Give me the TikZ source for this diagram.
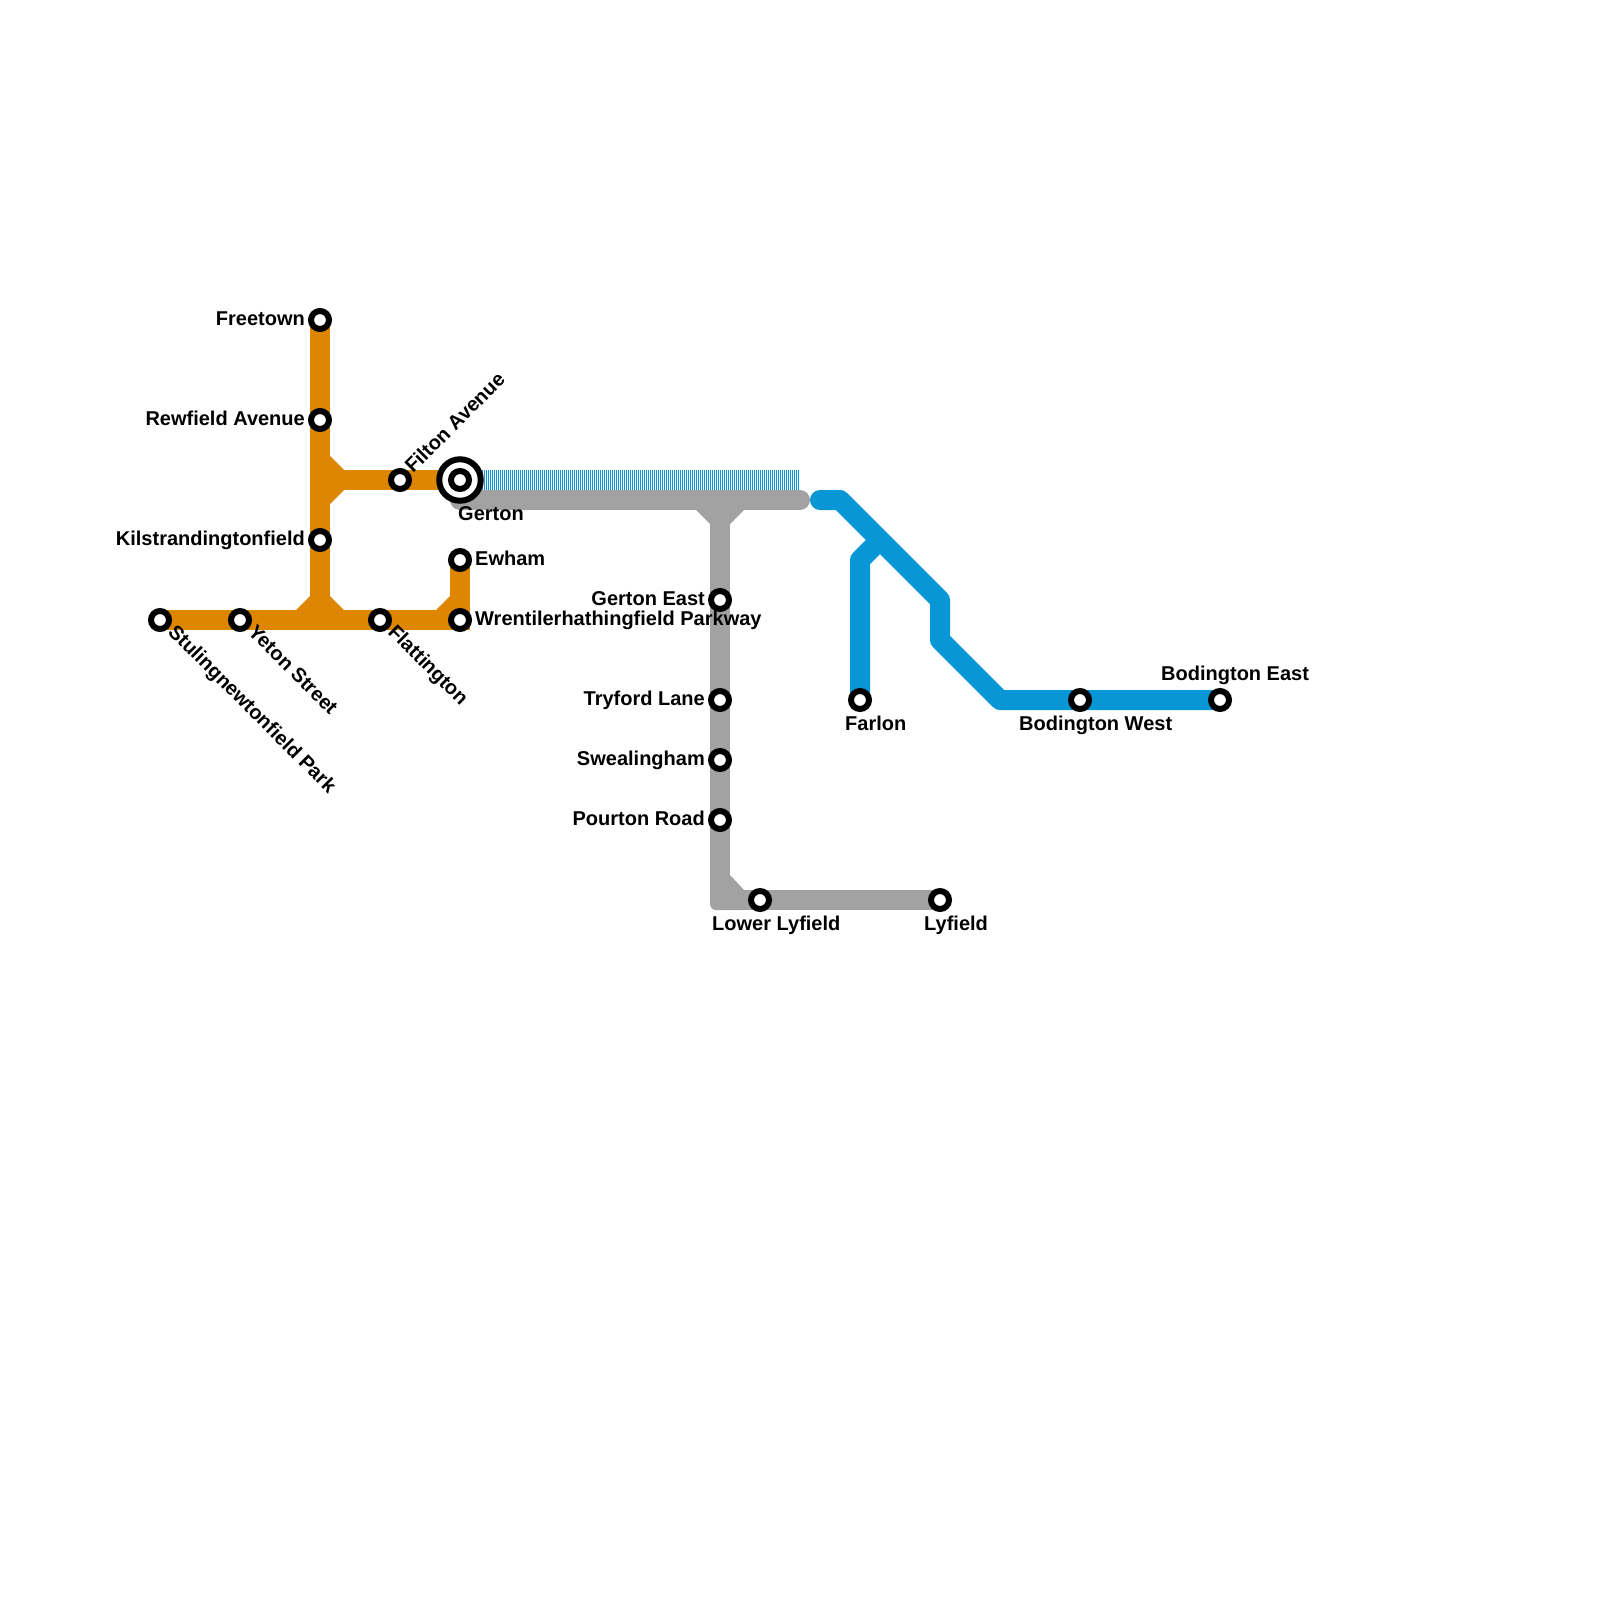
\documentclass[tikz,border=0pt]{standalone}
\usepackage{fontspec}
\setmainfont{Liberation Sans}
\definecolor{orangeline}{HTML}{DF8600}
\definecolor{blueline}{HTML}{0896D7}
\definecolor{greyline}{HTML}{A2A2A2}
\tikzset{
  x=1pt,y=-1pt,
  metro/.style={line width=20pt,line join=round},
  stn/.style={circle,draw=black,fill=white,line width=6pt,minimum size=18pt,inner sep=0pt,outer sep=0pt},
  lbl/.style={font=\fontsize{20}{20}\bfseries\selectfont,inner sep=0pt,text=black},
}
\begin{document}
\begin{tikzpicture}
\useasboundingbox (0,0) rectangle (1600,1600);
% stations (named first so connectors can use them)
\path
 (320,320) coordinate (cFree) (320,420) coordinate (cRew) (320,540) coordinate (cKil)
 (160,620) coordinate (cStu) (240,620) coordinate (cYet) (380,620) coordinate (cFla)
 (460,620) coordinate (cWre) (460,560) coordinate (cEwh) (400,480) coordinate (cFil)
 (460,480) coordinate (cGer) (720,600) coordinate (cGEa) (720,700) coordinate (cTry)
 (720,760) coordinate (cSwe) (720,820) coordinate (cPou) (760,900) coordinate (cLow)
 (940,900) coordinate (cLyf) (860,700) coordinate (cFar) (1080,700) coordinate (cBoW)
 (1220,700) coordinate (cBoE)
 (320,480) coordinate (jA) (320,630) coordinate (jB) (720,500) coordinate (jC)
 (720,900) coordinate (jD) (460,500) coordinate (gS) (800,500) coordinate (gE)
 (820,500) coordinate (bS) (840,500) coordinate (b1) (940,600) coordinate (b2)
 (940,640) coordinate (b3) (1000,700) coordinate (b4) (860,560) coordinate (f1)
 (880,540) coordinate (f2) (800,480) coordinate (sE) (460,630) coordinate (eB);
% striped section
\draw[line width=20pt,blueline,dash pattern=on 1pt off 1pt] (cGer) -- (sE);
% grey line
\draw[metro,greyline,line cap=round] (gS) -- (gE);
\draw[metro,greyline] (jC) -- (jD) -- (cLyf);
\fill[greyline] (696,510) -- (710,524) -- (730,524) -- (744,510) -- cycle;
\fill[greyline] (730,875) -- (744,890) -- (730,895) -- cycle;
\fill[greyline,rounded corners=6pt] (710,880) -- (710,910) -- (750,910) -- (750,890) -- (725,890) -- (725,880) -- cycle;
% blue line
\draw[metro,blueline,line cap=round] (bS) -- (b1) -- (b2) -- (b3) -- (b4) -- (cBoE);
\draw[metro,blueline] (cFar) -- (f1) -- (f2);
% orange line
\draw[line width=20pt,orangeline] (cFree) -- (jB);
\draw[line width=20pt,orangeline] (jA) -- (cGer);
\draw[line width=20pt,orangeline] (cStu) -- (cWre);
\draw[line width=20pt,orangeline] (cEwh) -- (eB);
\fill[orangeline] (330,456) -- (344,470) -- (344,490) -- (330,504) -- cycle;
\fill[orangeline] (296,610) -- (310,596) -- (330,596) -- (344,610) -- cycle;
\fill[orangeline] (436,610) -- (450,596) -- (460,610) -- cycle;
% stations
\foreach \c/\n in {cFree/Free,cRew/Rew,cKil/Kil,cStu/Stu,cYet/Yet,cFla/Fla,cWre/Wre,cEwh/Ewh,cFil/Fil,cGEa/GEa,cTry/Try,cSwe/Swe,cPou/Pou,cLow/Low,cLyf/Lyf,cFar/Far,cBoW/BoW,cBoE/BoE}
  \node[stn] (\n) at (\c) {};
\node[circle,draw=black,fill=white,line width=6pt,minimum size=41.5pt,inner sep=0pt,outer sep=0pt] (GerO) at (cGer) {};
\node[stn] (Ger) at (cGer) {};
% labels
\node[lbl,anchor=base east] (lFree) at (305,325) {Freetown};
\node[lbl,anchor=base east] (lRew) at (305,425) {Rewfield Avenue};
\node[lbl,anchor=base east] (lKil) at (305,545) {Kilstrandingtonfield};
\node[lbl,anchor=base east] (lGEa) at (705,605) {Gerton East};
\node[lbl,anchor=base east] (lTry) at (705,705) {Tryford Lane};
\node[lbl,anchor=base east] (lSwe) at (705,765) {Swealingham};
\node[lbl,anchor=base east] (lPou) at (705,825) {Pourton Road};
\node[lbl,anchor=base west] (lEwh) at (475,565) {Ewham};
\node[lbl,anchor=base west] (lWre) at (475,625) {Wrentilerhathingfield Parkway};
\node[lbl,anchor=base west] (lGer) at (458,520) {Gerton};
\node[lbl,anchor=base west] (lLow) at (712,930) {Lower Lyfield};
\node[lbl,anchor=base west] (lLyf) at (924,930) {Lyfield};
\node[lbl,anchor=base west] (lFar) at (845,730) {Farlon};
\node[lbl,anchor=base west] (lBoW) at (1019,730) {Bodington West};
\node[lbl,anchor=base west] (lBoE) at (1161,680) {Bodington East};
\node[lbl,anchor=base west,rotate=45] (lFil) at (413,474) {Filton Avenue};
\node[lbl,anchor=base west,rotate=-45] (lStu) at (167,633) {Stulingnewtonfield Park};
\node[lbl,anchor=base west,rotate=-45] (lYet) at (247,633) {Yeton Street};
\node[lbl,anchor=base west,rotate=-45] (lFla) at (387,633) {Flattington};
\end{tikzpicture}
\end{document}
